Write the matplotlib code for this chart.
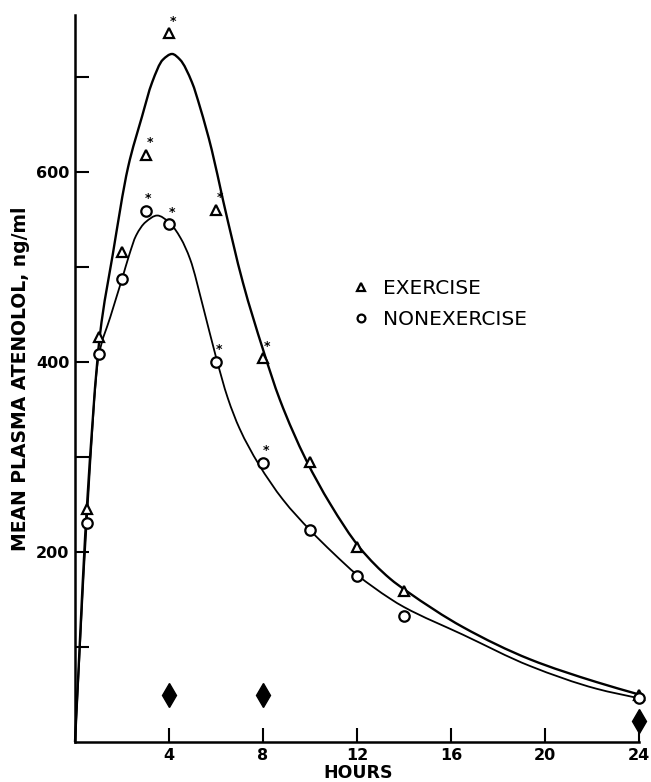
import matplotlib.pyplot as plt
from matplotlib.path import Path
from matplotlib.patches import PathPatch

# observed means (hours after dose)
hours = [0.5, 1, 2, 3, 4, 6, 8, 10, 12, 14, 24]
exercise = [245, 426, 516, 618, 746, 560, 404, 295, 205, 159, 49]
nonexercise = [230, 408, 487, 559, 545, 400, 294, 223, 175, 133, 46]

# significant differences (asterisks)
ex_sig_hours = [3, 4, 6, 8]
ex_sig_vals = [618, 746, 560, 404]
nx_sig_hours = [3, 4, 6, 8]
nx_sig_vals = [559, 545, 400, 294]

# fitted curves
ex_curve_h = [0, 0.5, 1.06, 1.6, 2.26, 2.85, 3.28, 3.74, 4.13, 4.47, 4.98, 5.32,
              5.82, 6.3, 7.15, 8.0, 8.72, 9.83, 10.85, 12.13, 13.4, 14.1, 16.5, 19.36, 22.2, 24]
ex_curve_v = [0, 245, 428, 512, 605, 658, 694, 718, 724, 718, 694, 668,
              623, 570, 483, 413, 360, 297, 251, 204, 172, 159, 121, 87, 63, 50]
nx_curve_h = [0, 0.5, 1.0, 1.5, 2.0, 2.3, 2.6, 3.0, 3.5, 4.0, 4.5, 4.9, 5.45, 6.0,
              6.5, 7.0, 7.8, 8.85, 10.0, 10.98, 12.0, 13.4, 14.0, 16.5, 19.36, 22.2, 24]
nx_curve_v = [0, 232, 405, 447, 487, 512, 533, 547, 554, 547, 530, 508, 458, 405,
              362, 330, 293, 255, 223, 199, 176, 151, 142, 113, 80, 56, 46]

# filled diamonds on the baseline
diamond_hours = [4, 8, 24]
diamond_vals = [49, 49, 22]


def smooth_path(xs, ys):
    # cubic Bezier through the traced knots, monotone (pchip-like) tangents
    n = len(xs)
    d = [(ys[i + 1] - ys[i]) / (xs[i + 1] - xs[i]) for i in range(n - 1)]
    m = [d[0]]
    for i in range(1, n - 1):
        if d[i - 1] * d[i] <= 0:
            m.append(0.0)
        else:
            h0 = xs[i] - xs[i - 1]
            h1 = xs[i + 1] - xs[i]
            w1 = 2 * h1 + h0
            w2 = h1 + 2 * h0
            m.append((w1 + w2) / (w1 / d[i - 1] + w2 / d[i]))
    m.append(d[-1])
    verts = [(xs[0], ys[0])]
    codes = [Path.MOVETO]
    for i in range(n - 1):
        dx = (xs[i + 1] - xs[i]) / 3
        verts += [(xs[i] + dx, ys[i] + dx * m[i]),
                  (xs[i + 1] - dx, ys[i + 1] - dx * m[i + 1]),
                  (xs[i + 1], ys[i + 1])]
        codes += [Path.CURVE4] * 3
    return Path(verts, codes)


fig = plt.figure(figsize=(6.51, 7.82), dpi=100)
ax = fig.add_axes([75/651, 40/782, 564/651, 727/782])

ax.add_patch(PathPatch(smooth_path(ex_curve_h, ex_curve_v), fill=False,
                       edgecolor='black', lw=1.7, clip_on=False))
ax.add_patch(PathPatch(smooth_path(nx_curve_h, nx_curve_v), fill=False,
                       edgecolor='black', lw=1.3, clip_on=False))

ax.plot(hours, exercise, linestyle='none', marker='^', ms=7.5, mfc='white',
        mec='black', mew=1.6, label='EXERCISE', clip_on=False, zorder=3)
ax.plot(hours, nonexercise, linestyle='none', marker='o', ms=7.5, mfc='white',
        mec='black', mew=1.6, label='NONEXERCISE', clip_on=False, zorder=3)
ax.plot(diamond_hours, diamond_vals, linestyle='none', marker='d', ms=12,
        color='black', clip_on=False, zorder=3)

for h, v in zip(ex_sig_hours, ex_sig_vals):
    ax.annotate('*', (h, v), xytext=(3, 4), textcoords='offset points',
                ha='center', va='bottom', fontsize=9, fontweight='bold')
for h, v in zip(nx_sig_hours, nx_sig_vals):
    ax.annotate('*', (h, v), xytext=(2, 4), textcoords='offset points',
                ha='center', va='bottom', fontsize=9, fontweight='bold')

ax.set_xlim(0, 24)
ax.set_ylim(0, 765)
ax.set_xticks([4, 8, 12, 16, 20, 24])
ax.set_yticks([200, 400, 600])
ax.set_yticks([100, 300, 500, 700], minor=True)
ax.tick_params(which='both', direction='in', length=10, width=1.5, labelsize=11.5, pad=4)
for lbl in ax.get_xticklabels() + ax.get_yticklabels():
    lbl.set_fontweight('bold')

for s in ['top', 'right']:
    ax.spines[s].set_visible(False)
for s in ['left', 'bottom']:
    ax.spines[s].set_linewidth(1.8)

fig.text(21/651, 1 - 379/782, 'MEAN PLASMA ATENOLOL, ng/ml', rotation=90,
         ha='center', va='center', fontsize=13.5, fontweight='bold')
ax.set_xlabel('HOURS', fontsize=12.5, fontweight='bold')
ax.xaxis.set_label_coords(0.502, -0.03)
ax.xaxis.label.set_va('top')

ax.legend(loc='upper left', bbox_to_anchor=(0.457, 0.662), frameon=False,
          fontsize=14.5, handlelength=1.0, handletextpad=0.6, labelspacing=0.6,
          markerscale=0.75)

fig.savefig('out.png', dpi=100)
